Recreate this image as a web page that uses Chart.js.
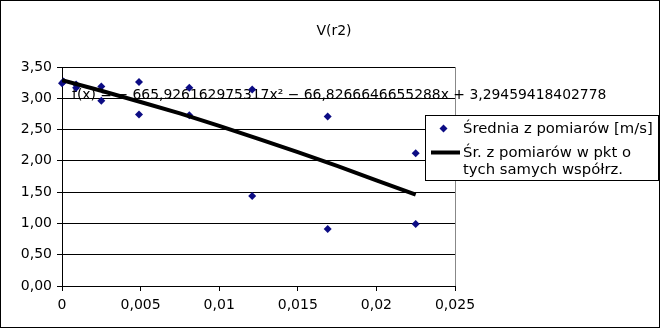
<!DOCTYPE html>
<html>
<head>
<meta charset="utf-8">
<script src="https://cdn.jsdelivr.net/npm/chart.js@4/dist/chart.umd.min.js"></script>
<style>
  html, body { margin: 0; padding: 0; background: #fff; }
  #wrap { width: 660px; height: 328px; position: relative; }
</style>
</head>
<body>
<div id="wrap"><canvas id="chart" width="660" height="328"></canvas></div>
<script>
// chart title and series names
const chartTitle = 'V(r2)';
const pointsLabel = 'Średnia z pomiarów [m/s]';
const lineLabel = 'Śr. z pomiarów w pkt o tych samych współrz.';
const equationText = 'f(x) = − 665,926162975317x² − 66,8266646655288x + 3,29459418402778';

const pointsX = [0, 0.0001, 0.0009, 0.0009, 0.0025, 0.0025, 0.0049, 0.0049, 0.0081, 0.0081, 0.0121, 0.0121, 0.0169, 0.0169, 0.0225, 0.0225];
const pointsY = [3.24, 3.27, 3.22, 3.17, 3.19, 2.96, 3.26, 2.74, 3.17, 2.73, 3.14, 1.44, 2.71, 0.91, 2.12, 0.99];

// black line
const lineX = [0, 0.0025, 0.005, 0.0075, 0.01, 0.0125, 0.015, 0.0175, 0.02, 0.0225];
const lineY = [3.29, 3.12, 2.94, 2.76, 2.56, 2.35, 2.14, 1.92, 1.69, 1.46];

// axis ticks
const xTickValues = [0, 0.005, 0.01, 0.015, 0.02, 0.025];
const xTickLabels = ['0', '0,005', '0,01', '0,015', '0,02', '0,025'];
const yTickValues = [0, 0.5, 1, 1.5, 2, 2.5, 3, 3.5];
const yTickLabels = ['0,00', '0,50', '1,00', '1,50', '2,00', '2,50', '3,00', '3,50'];

const FONT = 'DejaVu Sans';
const pointColor = '#0c0c84';

const toXY = (xs, ys) => xs.map((x, i) => ({ x, y: ys[i] }));

// Draws a diamond like the chart's point marker
const drawDiamond = (ctx, x, y, r) => {
    ctx.beginPath();
    ctx.moveTo(x, y - r);
    ctx.lineTo(x + r, y);
    ctx.lineTo(x, y + r);
    ctx.lineTo(x - r, y);
    ctx.closePath();
    ctx.fill();
};

// Splits a label into lines that fit into maxWidth
const wrapText = (ctx, text, maxWidth) => {
    const words = text.split(' ');
    const lines = [];
    let line = '';
    words.forEach(word => {
        const test = line ? line + ' ' + word : word;
        if (ctx.measureText(test).width > maxWidth && line) {
            lines.push(line);
            line = word;
        } else {
            line = test;
        }
    });
    if (line) lines.push(line);
    return lines;
};

// Title, equation, legend and outer frame
const decorPlugin = {
    id: 'decor',
    beforeDatasetsDraw(chart) {
        const { ctx, chartArea } = chart;
        ctx.save();
        ctx.font = `13.9px "${FONT}"`;
        ctx.fillStyle = '#000';
        ctx.textBaseline = 'alphabetic';
        ctx.textAlign = 'left';
        ctx.fillText(equationText, chartArea.left + 10, 99);
        ctx.restore();
    },
    afterDraw(chart) {
        const { ctx, width, height } = chart;
        const ds = chart.data.datasets;
        ctx.save();

        // title
        ctx.font = `14px "${FONT}"`;
        ctx.fillStyle = '#000';
        ctx.textAlign = 'center';
        ctx.textBaseline = 'alphabetic';
        ctx.fillText(chartTitle, 334, 35);

        // legend box
        const lx = 425, ly = 115, lw = 233, lh = 65;
        ctx.fillStyle = '#fff';
        ctx.fillRect(lx, ly, lw, lh);
        ctx.strokeStyle = '#000';
        ctx.lineWidth = 1;
        ctx.strokeRect(lx + 0.5, ly + 0.5, lw, lh);

        ctx.font = `14.8px "${FONT}"`;
        ctx.textAlign = 'left';
        const textX = 463;
        // points entry
        ctx.fillStyle = pointColor;
        drawDiamond(ctx, 443.5, 128.5, 4);
        ctx.fillStyle = '#000';
        ctx.fillText(ds[1].label, textX, 133);
        // line entry
        ctx.strokeStyle = '#000';
        ctx.lineWidth = 4;
        ctx.beginPath();
        ctx.moveTo(431, 152.5);
        ctx.lineTo(460, 152.5);
        ctx.stroke();
        const lines = wrapText(ctx, ds[0].label, 192);
        lines.forEach((t, i) => ctx.fillText(t, textX, 157 + i * 16.5));

        // outer frame
        ctx.strokeStyle = '#000';
        ctx.lineWidth = 1;
        ctx.strokeRect(0.5, 0.5, width - 1, height - 1);
        ctx.restore();
    }
};

Chart.defaults.font.family = FONT;
Chart.defaults.font.size = 14;
Chart.defaults.color = '#000';

new Chart(document.getElementById('chart'), {
    type: 'scatter',
    data: {
        datasets: [
            {
                label: lineLabel,
                data: toXY(lineX, lineY),
                showLine: true,
                borderColor: '#000',
                borderWidth: 4,
                pointRadius: 0,
                tension: 0,
                order: 0
            },
            {
                label: pointsLabel,
                data: toXY(pointsX, pointsY),
                pointStyle: 'rectRot',
                pointRadius: 4,
                pointBackgroundColor: pointColor,
                pointBorderColor: pointColor,
                pointBorderWidth: 0,
                clip: false,
                order: 1
            }
        ]
    },
    plugins: [decorPlugin],
    options: {
        responsive: false,
        animation: false,
        events: [],
        layout: { padding: { top: 67, right: 205, bottom: 0, left: 0 } },
        plugins: {
            legend: { display: false },
            title: { display: false },
            tooltip: { enabled: false }
        },
        scales: {
            x: {
                type: 'linear',
                min: 0,
                max: 0.025,
                afterBuildTicks: (scale) => { scale.ticks = xTickValues.map(v => ({ value: v })); },
                afterFit: (scale) => { scale.height = 42; },
                ticks: {
                    padding: 6,
                    maxRotation: 0,
                    callback: (v) => xTickLabels[xTickValues.indexOf(v)]
                },
                grid: {
                    drawOnChartArea: true,
                    color: (c) => (c.tick && c.tick.value === 0.025 ? '#888' : 'rgba(0,0,0,0)'),
                    tickColor: '#000',
                    tickLength: 5
                },
                border: { color: '#000', width: 1 }
            },
            y: {
                type: 'linear',
                min: 0,
                max: 3.5,
                afterBuildTicks: (scale) => { scale.ticks = yTickValues.map(v => ({ value: v })); },
                afterFit: (scale) => { scale.width = 62; },
                ticks: {
                    padding: 5,
                    callback: (v) => yTickLabels[yTickValues.indexOf(v)]
                },
                grid: {
                    color: '#000',
                    tickColor: '#000',
                    tickLength: 5
                },
                border: { color: '#000', width: 1 }
            }
        }
    }
});
</script>
</body>
</html>
